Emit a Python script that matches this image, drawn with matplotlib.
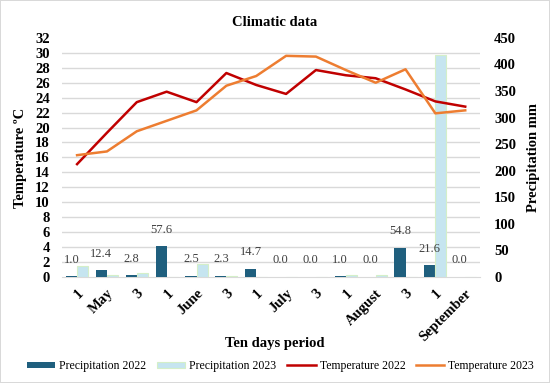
import numpy as np
import matplotlib
matplotlib.use('Agg')
import matplotlib.pyplot as plt
from matplotlib.ticker import MultipleLocator

plt.rcParams['font.family'] = ['Liberation Serif', 'DejaVu Serif']

# ten-day periods, May to September
periods = ['1', 'May', '3', '1', 'June', '3', '1', 'July', '3',
           '1', 'August', '3', '1', 'September']

prec2022 = [1.0, 12.4, 2.8, 57.6, 2.5, 2.3, 14.7, 0.0, 0.0,
            1.0, 0.0, 54.8, 21.6, 0.0]
prec2023 = [21.0, 4.0, 8.0, 0.5, 24.0, 1.5, 0.0, 0.0, 0.0,
            3.0, 3.0, 0.0, 418.0, 0.0]
temp2022 = [15.1, 19.3, 23.4, 24.8, 23.4, 27.3, 25.7, 24.5, 27.7,
            27.0, 26.6, 25.1, 23.5, 22.8]
temp2023 = [16.3, 16.8, 19.5, 20.9, 22.3, 25.6, 26.9, 29.6, 29.5,
            27.7, 26.0, 27.8, 21.9, 22.3]

c_p22 = '#1f5f7e'
c_p23 = '#c6e5f0'
c_t22 = '#c00000'
c_t23 = '#ed7d31'

fig = plt.figure(figsize=(5.5, 3.83), dpi=100,
                 edgecolor='#d9d9d9', linewidth=1.2)
ax = fig.add_axes([0.113, 0.277, 0.76, 0.624])
axt = ax.twinx()

x = np.arange(len(periods))
w = 0.37

# precipitation bars (drawn on the lower axis, ticks on the right)
ax.bar(x - w / 2, prec2022, w, color=c_p22, label='Precipitation 2022',
       zorder=3)
ax.bar(x + w / 2, prec2023, w, color=c_p23, edgecolor='#d4efc8',
       linewidth=0.8, label='Precipitation 2023', zorder=3)
for xi, v in zip(x, prec2022):
    ax.annotate('{:.1f}'.format(v), (xi - w / 2, v), xytext=(0, 12),
                textcoords='offset points', ha='center', va='center',
                fontsize=9, color='#404040', zorder=4)

ax.set_ylim(0, 450)
ax.set_xlim(-0.5, len(periods) - 0.5)
ax.yaxis.tick_right()
ax.yaxis.set_label_position('right')
ax.yaxis.set_major_locator(MultipleLocator(50))
ax.yaxis.set_minor_locator(MultipleLocator(450 / 16))
ax.grid(axis='y', which='minor', color='#d9d9d9', lw=1, zorder=0)
ax.tick_params(axis='y', which='both', length=0, labelsize=10.5, pad=10)
ax.set_ylabel('Precipitation mm', fontsize=10.5, fontweight='bold',
              labelpad=8)

# temperature lines (twin axis, ticks on the left)
axt.plot(x, temp2022, color=c_t22, lw=1.8, label='Temperature 2022',
         zorder=5)
axt.plot(x, temp2023, color=c_t23, lw=1.8, label='Temperature 2023',
         zorder=5)
axt.set_ylim(0, 32)
axt.yaxis.tick_left()
axt.yaxis.set_label_position('left')
axt.yaxis.set_major_locator(MultipleLocator(2))
axt.tick_params(axis='y', length=0, labelsize=10.5, pad=9)
axt.set_ylabel('Temperature ºC', fontsize=10.5, fontweight='bold',
               labelpad=6)

ax.set_xticks(x)
ax.set_xticklabels(periods, rotation=45, ha='right',
                   rotation_mode='anchor', fontsize=10.5,
                   fontweight='bold')
ax.tick_params(axis='x', length=0, pad=7)

for a in (ax, axt):
    for s in a.spines.values():
        s.set_visible(False)
ax.spines['bottom'].set_visible(True)
ax.spines['bottom'].set_color('#d9d9d9')

for lab in ax.get_yticklabels() + axt.get_yticklabels():
    lab.set_fontweight('bold')

fig.text(0.5, 0.94, 'Climatic data', ha='center', va='center',
         fontsize=10.5, fontweight='bold')
fig.text(0.5, 0.104, 'Ten days period', ha='center', va='center',
         fontsize=10.5, fontweight='bold')

h1, l1 = ax.get_legend_handles_labels()
h2, l2 = axt.get_legend_handles_labels()
fig.legend(h1 + h2, l1 + l2, loc='center', bbox_to_anchor=(0.51, 0.044),
           ncol=4, frameon=False, fontsize=8.5, handlelength=2.4,
           handleheight=0.5, columnspacing=0.9, handletextpad=0.35,
           borderpad=0.2)

fig.savefig('out.png', dpi=100)
